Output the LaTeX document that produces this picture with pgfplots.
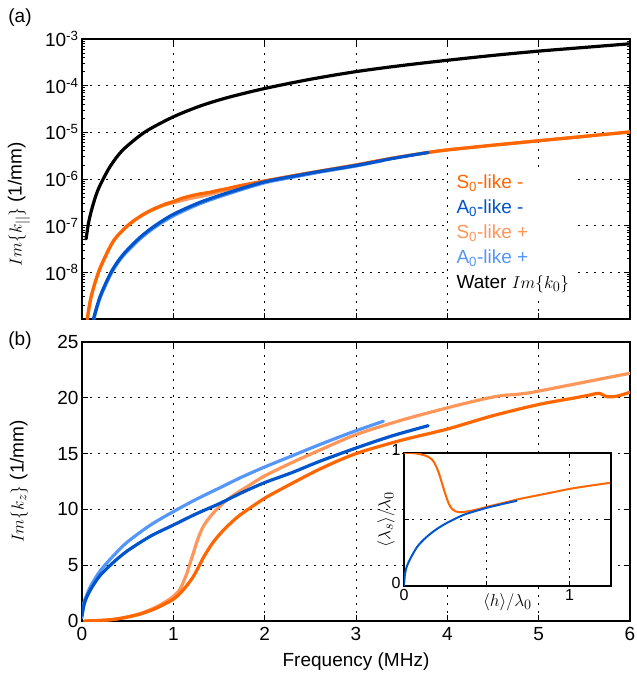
\documentclass[border=0pt]{standalone}
\usepackage{fontspec}
\setmainfont{Liberation Sans}
\usepackage{pgfplots}
\pgfplotsset{compat=1.18}

\definecolor{sminus}{RGB}{255,102,0}
\definecolor{aminus}{RGB}{0,84,204}
\definecolor{splus}{RGB}{255,150,90}
\definecolor{aplus}{RGB}{85,150,250}

\newcommand{\lbl}{\fontsize{19}{22}\selectfont}

\pgfplotsset{
  matstyle/.style={
    scale only axis,
    xtick pos=both, ytick pos=both,
    tick align=inside,
    major tick length=6pt, minor tick length=3.5pt,
    every tick/.style={black, line width=0.9pt},
    axis line style={line width=1.4pt},
    grid=major,
    major grid style={black, line width=0.8pt, dash pattern=on 2pt off 6pt},
    tick label style={font=\lbl},
    /pgf/number format/assume math mode=true,
  },
  curve/.style={line width=3.2pt, line join=round, line cap=round, smooth, tension=0.5},
  thin curve/.style={line width=2pt, line join=round, line cap=round, smooth, tension=0.5},
}

\begin{document}
\begin{tikzpicture}
\useasboundingbox (0,0) rectangle (637pt,673pt);

% ---------------- (a) attenuation along the plate ----------------
\begin{axis}[matstyle,
  at={(82pt,354pt)}, anchor=south west,
  width=548pt, height=280pt,
  xmin=0, xmax=6, xtick={0,1,...,6}, xticklabels={},
  ymode=log, ymin=1e-9, ymax=1e-3,
  ytick={1e-9,1e-8,1e-7,1e-6,1e-5,1e-4,1e-3},
  yticklabels={,10\textsuperscript{-8},10\textsuperscript{-7},10\textsuperscript{-6},10\textsuperscript{-5},10\textsuperscript{-4},10\textsuperscript{-3}},
  minor ytick={2e-9,3e-9,4e-9,5e-9,6e-9,7e-9,8e-9,9e-9,
    2e-8,3e-8,4e-8,5e-8,6e-8,7e-8,8e-8,9e-8,
    2e-7,3e-7,4e-7,5e-7,6e-7,7e-7,8e-7,9e-7,
    2e-6,3e-6,4e-6,5e-6,6e-6,7e-6,8e-6,9e-6,
    2e-5,3e-5,4e-5,5e-5,6e-5,7e-5,8e-5,9e-5,
    2e-4,3e-4,4e-4,5e-4,6e-4,7e-4,8e-4,9e-4},
  ylabel={$Im\{k_{||}\}$ (1/mm)},
  every axis y label/.style={at={(axis description cs:-0.115,0.41)}, rotate=90, anchor=center, font=\lbl},
]
% S0-like +
\addplot[curve, splus] coordinates {
 (0.058,1e-9) (0.1,3e-9) (0.18,1e-8) (0.27,2.5e-8) (0.36,5.2e-8) (0.5,1.0e-7)
 (0.62,1.5e-7) (0.745,2.05e-7) (0.9,2.75e-7) (1.0,3.1e-7) (1.1,3.5e-7) (1.2,3.9e-7)
 (1.29,4.2e-7) (1.4,4.7e-7) (1.47,5.1e-7) (1.6,6.0e-7) (1.73,7.0e-7) (2.0,9.0e-7)
 (2.39,1.25e-6) (2.6,1.47e-6) (3.0,2.0e-6) (3.4,2.8e-6) (3.79,3.7e-6) (4.0,4.2e-6)
 (4.5,5.3e-6) (5.0,6.6e-6) (5.5,8.2e-6) (6.0,1.02e-5)};
% A0-like +
\addplot[curve, aplus] coordinates {
 (0.13,1e-9) (0.2,2.9e-9) (0.325,9.9e-9) (0.45,2.25e-8) (0.635,5.2e-8) (0.8,9.3e-8)
 (1.0,1.62e-7) (1.29,2.95e-7) (1.6,4.8e-7) (2.0,8.3e-7) (2.39,1.17e-6) (2.6,1.4e-6)
 (3.0,1.9e-6) (3.3,2.5e-6)};
% S0-like -
\addplot[curve, sminus] coordinates {
 (0.058,1e-9) (0.1,3e-9) (0.18,1e-8) (0.27,2.5e-8) (0.36,5.2e-8) (0.5,1.0e-7)
 (0.62,1.5e-7) (0.745,2.1e-7) (0.9,2.85e-7) (1.0,3.3e-7) (1.1,3.9e-7) (1.2,4.4e-7)
 (1.29,4.8e-7) (1.4,5.2e-7) (1.47,5.6e-7) (1.6,6.3e-7) (1.73,7.2e-7) (2.0,9.1e-7)
 (2.39,1.25e-6) (2.6,1.47e-6) (3.0,2.0e-6) (3.4,2.8e-6) (3.79,3.7e-6) (4.0,4.2e-6)
 (4.5,5.3e-6) (5.0,6.6e-6) (5.5,8.2e-6) (6.0,1.02e-5)};
% A0-like -
\addplot[curve, aminus] coordinates {
 (0.125,1e-9) (0.2,3.1e-9) (0.325,1.06e-8) (0.45,2.4e-8) (0.635,5.6e-8) (0.8,1.0e-7)
 (1.0,1.75e-7) (1.29,3.15e-7) (1.6,5.1e-7) (2.0,8.7e-7) (2.39,1.22e-6) (2.6,1.45e-6)
 (3.0,1.95e-6) (3.4,2.75e-6) (3.79,3.7e-6)};
% water
\addplot[curve, black] coordinates {
 (0.045,5.2e-8) (0.07,1.1e-7) (0.1,2.0e-7) (0.15,4.3e-7) (0.2,7.5e-7) (0.3,1.75e-6)
 (0.4,3.3e-6) (0.5,5.2e-6) (0.7,1.05e-5) (1.0,2.15e-5) (1.3,3.7e-5) (1.6,5.6e-5)
 (2.0,8.7e-5) (2.5,1.37e-4) (3.0,2.0e-4) (3.5,2.7e-4) (4.0,3.5e-4) (4.5,4.45e-4)
 (5.0,5.5e-4) (5.5,6.6e-4) (6.0,7.9e-4)};
\node[fill=white, anchor=north west, inner xsep=9pt, inner ysep=4pt, align=left,
      font=\fontsize{19}{25}\selectfont] at (axis cs:4.0,1.55e-6)
 {\textcolor{sminus}{S\textsubscript{0}-like -}\\
  \textcolor{aminus}{A\textsubscript{0}-like -}\\
  \textcolor{splus}{S\textsubscript{0}-like +}\\
  \textcolor{aplus}{A\textsubscript{0}-like +}\\
  Water $Im\{k_0\}$};
\end{axis}

% ---------------- (b) decay normal to the plate ----------------
\begin{axis}[matstyle,
  at={(82pt,52pt)}, anchor=south west,
  width=548pt, height=279pt,
  xmin=0, xmax=6, xtick={0,1,...,6},
  ymin=0, ymax=25, ytick={0,5,...,25},
  xticklabel style={yshift=-3pt},
  xlabel={Frequency (MHz)},
  ylabel={$Im\{k_z\}$ (1/mm)},
  every axis x label/.style={at={(axis description cs:0.5,-0.145)}, anchor=center, font=\lbl},
  every axis y label/.style={at={(axis description cs:-0.115,0.5)}, rotate=90, anchor=center, font=\lbl},
]
% S0-like +
\addplot[curve, splus] coordinates {
 (0.03,0) (0.2,0.05) (0.35,0.15) (0.5,0.38) (0.65,0.7) (0.8,1.2) (0.9,1.65)
 (1.0,2.2) (1.07,2.8) (1.11,3.5) (1.15,4.3) (1.18,5.1) (1.22,6.1) (1.25,6.9)
 (1.29,7.8) (1.33,8.5) (1.38,9.1) (1.44,9.7) (1.5,10.2) (1.58,10.8) (1.7,11.5)
 (1.8,12.0) (2.0,13.0) (2.3,14.2) (2.6,15.3) (3.0,16.7) (3.5,18.0) (4.0,19.1)
 (4.4,19.9) (4.6,20.2) (4.75,20.3) (4.9,20.45) (5.0,20.6) (5.5,21.4) (6.0,22.2)};
% A0-like +
\addplot[curve, aplus] coordinates {
 (0,0.3) (0.02,1.6) (0.05,2.3) (0.1,3.2) (0.2,4.5) (0.35,5.9) (0.5,7.1) (0.75,8.6)
 (1.0,9.8) (1.25,10.9) (1.5,11.9) (1.75,12.9) (2.0,13.8) (2.3,14.8) (2.6,15.8)
 (2.95,16.9) (3.3,17.9)};
% S0-like -
\addplot[curve, sminus] coordinates {
 (0.03,0) (0.2,0.05) (0.35,0.15) (0.5,0.35) (0.65,0.65) (0.8,1.1) (0.9,1.5)
 (1.0,1.95) (1.07,2.45) (1.15,3.2) (1.22,4.0) (1.28,4.9) (1.33,5.7) (1.39,6.5)
 (1.44,7.1) (1.5,7.7) (1.58,8.4) (1.7,9.3) (1.8,9.9) (2.0,11.0) (2.2,11.9)
 (2.6,13.6) (3.0,15.0) (3.5,16.2) (4.0,17.2) (4.5,18.4) (5.0,19.4) (5.4,20.0)
 (5.56,20.25) (5.66,20.4) (5.75,20.1) (5.86,20.15) (6.0,20.5)};
% A0-like -
\addplot[curve, aminus] coordinates {
 (0,0.5) (0.02,1.4) (0.05,2.1) (0.1,2.9) (0.2,4.1) (0.35,5.3) (0.5,6.3) (0.75,7.6)
 (1.0,8.6) (1.25,9.6) (1.5,10.5) (1.75,11.5) (2.0,12.4) (2.3,13.3) (2.6,14.3)
 (3.0,15.5) (3.4,16.6) (3.79,17.5)};
\end{axis}

% ---------------- inset: mean wavelength vs. mean height ----------------
\begin{axis}[matstyle,
  at={(404pt,87pt)}, anchor=south west,
  width=207pt, height=133pt,
  axis background/.style={fill=white},
  xmin=0, xmax=1.25, ymin=0, ymax=1,
  xtick={0,0.5,1}, xticklabels={0,,1},
  ytick={0,0.5,1}, yticklabels={0,,1},
  major tick length=5pt,
  tick label style={font=\fontsize{16}{19}\selectfont},
  xticklabel style={yshift=0pt},
  yticklabel style={xshift=0pt, yshift=3pt},
  xlabel={$\langle h\rangle/\lambda_0$},
  ylabel={$\langle\lambda_s\rangle/\lambda_0$},
  every axis x label/.style={at={(axis description cs:0.5,-0.12)}, anchor=center, font=\lbl},
  every axis y label/.style={at={(axis description cs:-0.087,0.5)}, rotate=90, anchor=center, font=\lbl},
]
\addplot[thin curve, sminus] coordinates {
 (0,1.0) (0.05,1.0) (0.1,0.99) (0.14,0.975) (0.17,0.95) (0.19,0.91) (0.21,0.85)
 (0.23,0.77) (0.25,0.69) (0.27,0.62) (0.29,0.58) (0.31,0.562) (0.34,0.555)
 (0.38,0.56) (0.45,0.578) (0.5,0.595) (0.6,0.625) (0.7,0.655) (0.8,0.68)
 (0.9,0.705) (1.0,0.73) (1.1,0.75) (1.24,0.775)};
\addplot[thin curve, aminus] coordinates {
 (0,0) (0.005,0.08) (0.015,0.14) (0.036,0.2) (0.077,0.29) (0.12,0.35) (0.157,0.39)
 (0.2,0.43) (0.26,0.475) (0.36,0.535) (0.45,0.57) (0.5,0.588) (0.6,0.618) (0.68,0.64)};
\end{axis}

\node[font=\lbl] at (20pt,655pt) {(a)};
\node[font=\lbl] at (20pt,332pt) {(b)};
\end{tikzpicture}
\end{document}
